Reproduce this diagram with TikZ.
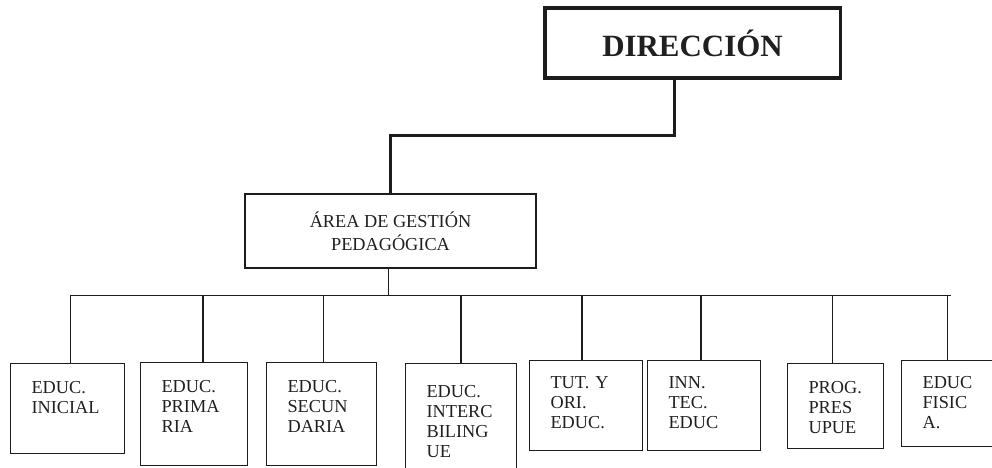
\documentclass[tikz,border=0pt]{standalone}
\usepackage{fontspec}
\setmainfont{Liberation Serif}
\usepackage{tikz}
\usetikzlibrary{positioning, calc}
\definecolor{orgLine}{HTML}{1C1C1C}
\definecolor{orgText}{HTML}{202020}

\begin{document}
\begin{tikzpicture}[
        x=0.025cm, y=-0.025cm,
        direc/.style={
            draw=orgLine,
            line width=2.2pt,
            minimum width=7.375cm,
            minimum height=1.75cm,
            text=orgText,
            font=\fontsize{22pt}{26pt}\selectfont\bfseries
        },
        areabox/.style={
            draw=orgLine,
            line width=1.7pt,
            minimum width=7.275cm,
            minimum height=1.85cm,
            align=center,
            text=orgText,
            font=\fontsize{13pt}{16.4pt}\selectfont
        },
        unitbox/.style 2 args={
            draw=orgLine,
            line width=0.8pt,
            anchor=north west,
            align=left,
            inner xsep=0.525cm,
            inner ysep=0pt,
            text width=#1,
            text height=0.75cm,
            text depth=#2,
            text=orgText,
            font=\fontsize{13pt}{14.3pt}\selectfont
        },
        bold line/.style={draw=orgLine, line width=2.2pt},
        thin line/.style={draw=orgLine, line width=0.9pt}
    ]
    \useasboundingbox (0,0) rectangle (992,467);

    \node[direc] (direccion) at (692.5,43) {DIRECCIÓN};
    \node[areabox] (gestion) at (390.5,231) {ÁREA DE GESTIÓN\\PEDAGÓGICA};

    % unidades
    \node[unitbox={1.8cm}{1.5cm}] (inicial) at (10,363) {EDUC.\\INICIAL};
    \node[unitbox={1.625cm}{1.825cm}] (primaria) at (140,362) {EDUC.\\PRIMA\\RIA};
    \node[unitbox={1.7cm}{1.825cm}] (secundaria) at (266,362) {EDUC.\\SECUN\\DARIA};
    \node[unitbox={1.725cm}{1.95cm}, text height=0.85cm] (intercultural) at (405,363) {EDUC.\\INTERC\\BILING\\UE};
    \node[unitbox={1.775cm}{1.55cm}, text height=0.7cm] (tutoria) at (529,360) {TUT. Y\\ORI.\\EDUC.};
    \node[unitbox={1.775cm}{1.55cm}, text height=0.7cm] (innovacion) at (647,360) {INN.\\TEC.\\EDUC};
    \node[unitbox={1.35cm}{1.375cm}] (presupuesto) at (787,363) {PROG.\\PRES\\UPUE};
    \node[unitbox={1.45cm}{1.45cm}, text height=0.7cm] (fisica) at (901,360) {EDUC\\FISIC\\A.};

    \draw[bold line] ($(direccion.south)+(-18,0)$) |- ($(gestion.north)+(0,-57)$) -- (gestion.north);

    \coordinate (bus) at ($(gestion.south)+(-2,26)$);
    \draw[thin line] (bus |- gestion.south) -- (bus);
    \draw[thin line] ($(inicial.north |- bus)+(3,0)$) -- ($(fisica.north |- bus)+(-1,0)$);

    \foreach \unidad/\dx in {inicial/3, primaria/9, secundaria/2, intercultural/0,
                             tutoria/-4, innovacion/-3, presupuesto/-3, fisica/-4}
        \draw[thin line] ($(\unidad.north)+(\dx,0)$) coordinate (drop) -- (drop |- bus);

\end{tikzpicture}
\end{document}
